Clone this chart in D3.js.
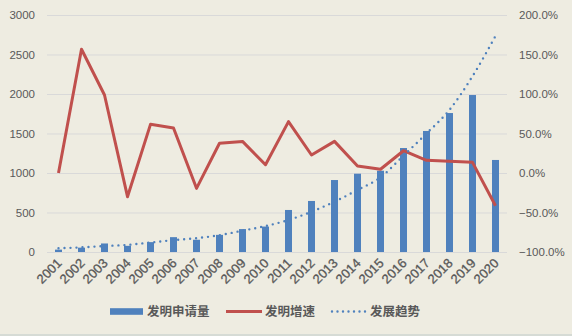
<!DOCTYPE html>
<html><head><meta charset="utf-8">
<script src="https://cdn.jsdelivr.net/npm/d3@7"></script>
<style>html,body{margin:0;padding:0;background:#EEECE1;}svg{display:block;}</style>
</head><body>
<script>
const years = ["2001","2002","2003","2004","2005","2006","2007","2008","2009","2010","2011","2012","2013","2014","2015","2016","2017","2018","2019","2020"];
const applications = [30, 55, 108, 78, 125, 188, 155, 217, 290, 322, 532, 646, 911, 991, 1029, 1316, 1532, 1759, 1987, 1165];
const growthRate = [0.0, 1.566, 0.987, -0.30, 0.616, 0.57, -0.194, 0.376, 0.40, 0.105, 0.65, 0.228, 0.40, 0.089, 0.047, 0.282, 0.16, 0.148, 0.135, -0.414];
const trend = [47, 59, 76, 90, 120, 150, 175, 213, 270, 328, 405, 510, 637, 785, 945, 1220, 1500, 1800, 2225, 2735];
const leftTicks = [0, 500, 1000, 1500, 2000, 2500, 3000];
const rightTicks = [-1, -0.5, 0, 0.5, 1, 1.5, 2];
const legendLabels = ["发明申请量", "发明增速", "发展趋势"];

const W = 572, H = 336;
const blue = "#4F81BD", red = "#C0504D", grid = "#D9D9D9", txt = "#595959";
const svg = d3.select("body").append("svg").attr("width", W).attr("height", H);
svg.append("rect").attr("width", W).attr("height", H).attr("fill", "#EEECE1");
svg.append("rect").attr("x", 0).attr("y", H - 2).attr("width", W).attr("height", 2).attr("fill", "#D6DBD5");

const x0 = 47, x1 = 507, yTop = 15, yBot = 252;
const x = d3.scaleBand().domain(years).range([x0, x1]);
const yL = d3.scaleLinear().domain([0, 3000]).range([yBot, yTop]);
const yR = d3.scaleLinear().domain([-1, 2]).range([yBot, yTop]);

// gridlines
svg.append("g").selectAll("line").data(leftTicks).join("line")
  .attr("x1", x0).attr("x2", x1)
  .attr("y1", d => yL(d) + 0.5).attr("y2", d => yL(d) + 0.5)
  .attr("stroke", grid).attr("stroke-width", 1);

// left axis
const font = "'Liberation Sans', Arial, sans-serif";
const gl = svg.append("g").attr("transform", `translate(${x0},0)`)
  .call(d3.axisLeft(yL).tickValues(leftTicks).tickSize(0).tickPadding(12).tickFormat(d3.format("d")));
gl.select(".domain").remove();
gl.selectAll("text").attr("font-family", font).attr("font-size", "11.5px").attr("fill", txt);

// right axis
const gr = svg.append("g").attr("transform", `translate(${x1},0)`)
  .call(d3.axisRight(yR).tickValues(rightTicks).tickSize(0).tickPadding(12).tickFormat(d3.format(".1%")));
gr.select(".domain").remove();
gr.selectAll("text").attr("font-family", font).attr("font-size", "11.5px").attr("fill", txt);

// bars
const bw = 7;
svg.append("g").selectAll("rect").data(years).join("rect")
  .attr("x", d => x(d) + x.bandwidth() / 2 - bw / 2)
  .attr("width", bw)
  .attr("y", (d, i) => yL(applications[i]))
  .attr("height", (d, i) => yBot - yL(applications[i]))
  .attr("fill", blue);

// x labels
const gx = svg.append("g").attr("transform", `translate(0,${yBot})`)
  .call(d3.axisBottom(x).tickSize(0).tickPadding(0));
gx.select(".domain").remove();
gx.selectAll("text")
  .attr("font-family", font).attr("font-size", "13px").attr("fill", txt)
  .attr("stroke", txt).attr("stroke-width", 0.3)
  .attr("text-anchor", "end").attr("dy", null).attr("y", 0)
  .attr("transform", "translate(4,12) rotate(-45)");

// growth line
const cx = d => x(d) + x.bandwidth() / 2;
svg.append("path").datum(years)
  .attr("d", d3.line().x(cx).y((d, i) => yR(growthRate[i])))
  .attr("fill", "none").attr("stroke", red).attr("stroke-width", 3).attr("stroke-linejoin", "round");

// trend line
svg.append("path").datum(years)
  .attr("d", d3.line().curve(d3.curveMonotoneX).x(cx).y((d, i) => yL(trend[i])))
  .attr("fill", "none").attr("stroke", blue).attr("stroke-width", 2.4)
  .attr("stroke-linecap", "round").attr("stroke-dasharray", "0 6");

// legend
const ly = 311.5;
const lg = svg.append("g");
lg.append("rect").attr("x", 110).attr("y", ly - 3.3).attr("width", 33).attr("height", 6.6).attr("fill", blue);
lg.append("line").attr("x1", 226).attr("x2", 262).attr("y1", ly).attr("y2", ly).attr("stroke", red).attr("stroke-width", 3);
lg.append("line").attr("x1", 332).attr("x2", 366).attr("y1", ly).attr("y2", ly).attr("stroke", blue)
  .attr("stroke-width", 2.4).attr("stroke-linecap", "round").attr("stroke-dasharray", "0 5.5");
const lx = [147, 265, 370];
lg.selectAll("text").data(legendLabels).join("text")
  .attr("x", (d, i) => lx[i]).attr("y", ly).attr("dy", "0.36em")
  .attr("font-family", "'Noto Sans CJK SC', sans-serif").attr("font-size", "12.5px").attr("font-weight", "bold")
  .attr("fill", txt).text(d => d);
</script>
</body></html>
